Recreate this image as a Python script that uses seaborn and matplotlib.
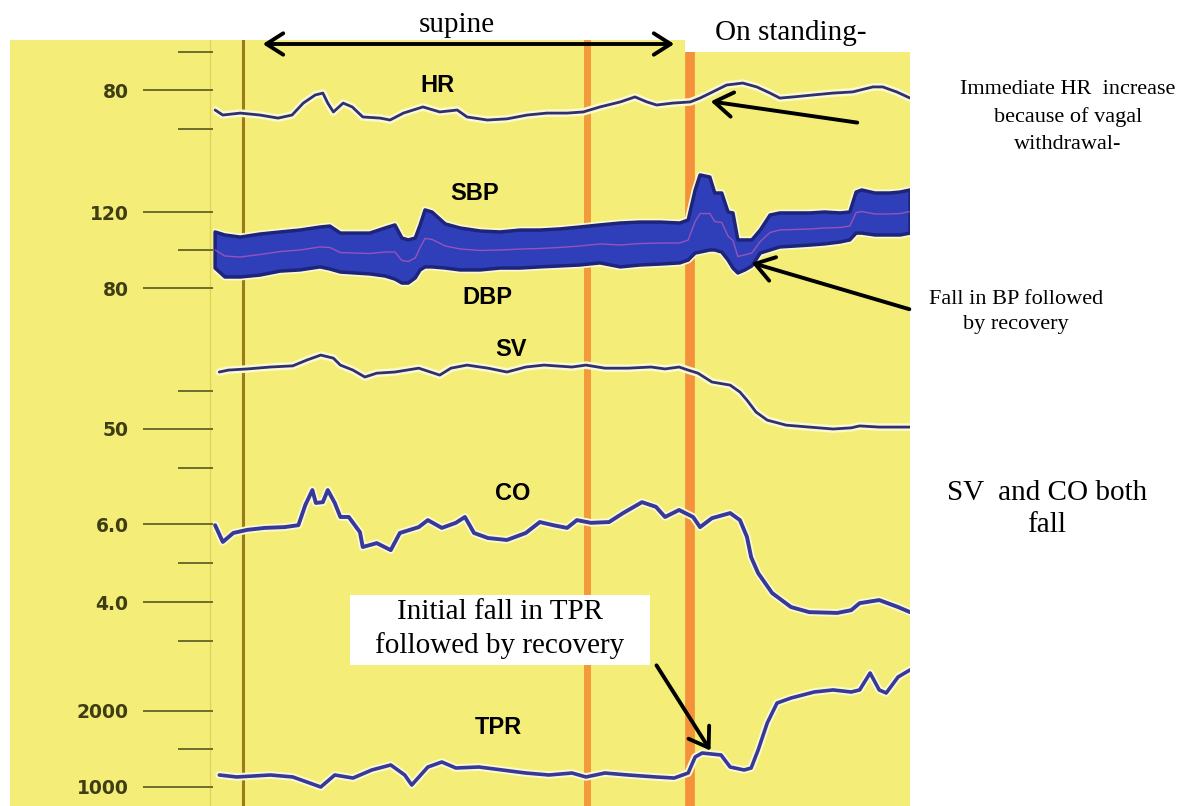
import matplotlib
matplotlib.use("Agg")
import matplotlib.pyplot as plt
import matplotlib.patheffects as pe
from matplotlib.patches import Rectangle, FancyArrowPatch
import pandas as pd
import seaborn as sns

# --- data (time in s, values in signal units) ---
hr_t = [0, 1.1, 3.6, 6.4, 9.0, 11.0, 12.6, 14.3, 15.4, 16.1, 16.9, 18.3, 19.6, 21.1, 23.6, 25.0,
        26.9, 29.7, 32.1, 34.6, 36.0, 38.9, 41.7, 44.6, 47.4, 50.3, 52.6, 55.0, 57.9, 60.0, 61.7,
        63.1, 65.4, 67.9, 69.3, 71.1, 73.1, 75.4, 77.4, 79.3, 80.7, 82.6, 85.4, 88.3, 91.1, 94.0,
        95.4, 97.4, 99.3]
hr = [74.8, 73.5, 74.0, 73.5, 72.7, 73.5, 76.6, 78.7, 79.2, 76.6, 74.3, 76.6, 75.6, 73.0, 72.7,
      72.2, 74.0, 75.6, 74.3, 74.8, 73.0, 72.2, 72.5, 73.5, 74.0, 74.0, 74.3, 75.6, 76.9, 78.2,
      76.9, 76.1, 76.6, 76.9, 77.9, 79.5, 81.3, 81.8, 80.8, 79.2, 77.9, 78.2, 78.7, 79.2, 79.5,
      80.8, 80.8, 79.5, 77.9]

bp_t = [0, 1.4, 3.6, 6.4, 9.3, 12.1, 15.0, 16.4, 17.9, 20.0, 22.1, 24.3, 25.7, 26.7, 27.6, 28.6,
        29.3, 30.0, 31.0, 32.9, 35.0, 37.9, 40.7, 43.6, 46.4, 49.3, 52.1, 55.0, 57.9, 60.7, 63.6,
        66.4, 67.6, 68.6, 69.3, 70.7, 71.4, 72.4, 73.3, 74.0, 74.7, 75.7, 76.7, 77.9, 79.3, 80.7,
        82.9, 85.0, 87.1, 89.3, 90.7, 91.6, 92.4, 94.3, 96.4, 97.9, 99.3]
sbp = [109.5, 107.9, 106.8, 108.4, 109.5, 110.5, 112.1, 112.6, 108.9, 108.9, 108.9, 111.6, 113.2,
       106.3, 105.3, 106.3, 113.2, 121.1, 120.0, 113.7, 111.6, 110.0, 109.5, 110.5, 110.5, 111.1,
       112.1, 113.2, 114.2, 114.7, 114.7, 114.2, 115.8, 131.6, 139.5, 138.4, 130.0, 130.0, 120.0,
       119.5, 105.3, 105.3, 105.3, 110.5, 118.4, 119.5, 119.5, 119.5, 120.0, 119.5, 120.0, 130.5,
       131.6, 130.0, 130.0, 130.5, 131.6]
dbp = [90.5, 85.8, 85.8, 86.8, 88.9, 89.5, 91.1, 90.0, 88.4, 87.9, 87.4, 86.3, 84.7, 82.6, 82.6,
       85.3, 89.5, 91.1, 91.1, 90.5, 89.5, 89.5, 90.5, 90.5, 91.1, 91.6, 92.1, 93.2, 91.1, 92.1,
       92.6, 93.2, 94.7, 98.4, 98.9, 100.0, 100.0, 98.9, 94.7, 90.5, 87.9, 89.5, 91.6, 98.4, 100.0,
       101.6, 102.1, 102.6, 103.2, 104.2, 105.3, 108.9, 108.9, 107.9, 107.9, 107.9, 108.9]

sv_t = [0.6, 1.9, 4.6, 7.9, 11.1, 13.1, 15.1, 16.9, 17.9, 19.7, 21.4, 23.1, 25.7, 29.1, 32.1, 33.7,
        36.0, 39.0, 41.7, 44.4, 47.0, 51.0, 53.0, 55.7, 59.0, 62.3, 64.3, 66.3, 67.6, 69.0, 71.0,
        73.6, 75.0, 76.0, 77.3, 78.9, 81.6, 84.9, 88.3, 90.9, 92.1, 94.9, 99.3]
sv = [64.8, 65.3, 65.6, 66.1, 66.4, 67.9, 69.2, 68.4, 66.6, 65.3, 63.5, 64.5, 64.8, 65.8, 64.0,
      65.8, 66.6, 65.8, 64.8, 66.1, 66.6, 66.1, 66.6, 65.8, 65.8, 66.1, 65.6, 66.1, 65.3, 64.5,
      62.2, 61.4, 59.6, 57.5, 54.4, 52.3, 51.0, 50.5, 50.0, 50.3, 50.8, 50.5, 50.5]

co_t = [0, 1.1, 2.6, 4.6, 7.1, 9.9, 11.9, 12.9, 13.9, 14.4, 15.4, 16.1, 17.1, 17.9, 19.1, 20.7,
        21.1, 23.1, 25.1, 26.4, 29.1, 30.4, 32.4, 34.4, 35.7, 37.0, 39.0, 41.7, 44.4, 46.4, 48.3,
        50.3, 51.7, 53.7, 56.3, 58.3, 61.0, 63.0, 64.3, 66.3, 68.3, 69.3, 71.0, 73.6, 75.0, 76.0,
        76.6, 77.6, 79.6, 82.3, 84.9, 88.9, 90.9, 92.1, 94.9, 97.6, 99.3]
co = [5.97, 5.54, 5.77, 5.85, 5.90, 5.92, 5.97, 6.49, 6.87, 6.54, 6.56, 6.87, 6.54, 6.18, 6.18,
      5.79, 5.41, 5.51, 5.33, 5.77, 5.92, 6.10, 5.90, 6.03, 6.18, 5.77, 5.64, 5.59, 5.77, 6.05,
      5.97, 5.90, 6.10, 6.03, 6.05, 6.28, 6.56, 6.44, 6.18, 6.36, 6.18, 5.92, 6.15, 6.28, 6.10,
      5.67, 5.15, 4.74, 4.23, 3.87, 3.74, 3.72, 3.79, 3.97, 4.05, 3.87, 3.74]

tpr_t = [0.6, 3.1, 7.9, 11.1, 13.1, 15.1, 17.1, 19.7, 22.4, 25.1, 27.1, 28.1, 30.4, 32.4, 34.4,
         37.7, 41.0, 44.4, 47.7, 51.0, 53.0, 55.7, 59.0, 63.0, 65.6, 67.6, 68.6, 69.6, 72.3, 73.6,
         75.6, 76.6, 77.6, 78.9, 80.3, 82.3, 85.6, 88.3, 90.9, 92.1, 93.6, 94.9, 95.9, 97.6, 99.3]
tpr = [1158, 1132, 1158, 1132, 1066, 1000, 1158, 1118, 1224, 1290, 1158, 1026, 1263, 1329, 1250,
       1263, 1224, 1184, 1158, 1184, 1132, 1184, 1158, 1132, 1118, 1184, 1395, 1447, 1421, 1263,
       1224, 1250, 1487, 1842, 2105, 2171, 2250, 2277, 2250, 2277, 2500, 2277, 2237, 2448, 2540]

# event markers (s) and tick labels
brown_mark = 4.0
orange_marks = [53.1, 67.9]
hr_ticks, hr_minor, hr_labels = [80], [90, 70], ["80"]
bp_ticks, bp_minor, bp_labels = [120, 80], [100], ["120", "80"]
sv_ticks, sv_minor, sv_labels = [50], [60, 40], ["50"]
co_ticks, co_minor, co_labels = [6.0, 4.0], [5.0, 3.0], ["6.0", "4.0"]
tpr_ticks, tpr_minor, tpr_labels = [2000, 1000], [1500], ["2000", "1000"]

W, H = 1188, 806
YELLOW = "#f4ee78"
TRACE = "#2f2f72"
HALO = [pe.Stroke(linewidth=5.5, foreground="#fbf9cf"), pe.Normal()]

sns.set_style("white")
plt.rcParams["font.family"] = ["Liberation Serif", "DejaVu Serif"]
plt.rcParams["text.color"] = "black"

fig = plt.figure(figsize=(W / 100, H / 100), dpi=100)


def fx(px):
    return px / W


def fy(py):
    return 1 - py / H


# yellow recording strip
bg = fig.add_axes([fx(10), 0, fx(910) - fx(10), (H - 40) / H])
bg.set_facecolor(YELLOW)
bg.set_xlim(-29.3, 99.3)
bg.set_ylim(0, 1)
bg.set_xticks([])
bg.set_yticks([])
for s in bg.spines.values():
    s.set_visible(False)
bg.axvline(-0.7, color="#ddd45a", lw=1)
bg.axvline(brown_mark, color="#9c7a1e", lw=2.2)
bg.axvline(orange_marks[0], color="#f39a3a", lw=5)
bg.axvline(orange_marks[1], color="#f3923a", lw=7)


def band_axes(top, bottom, ref, ticks, minor, labels):
    (v1, p1), (v2, p2) = ref
    scale = (v1 - v2) / (p2 - p1)
    ax = fig.add_axes([fx(213), fy(bottom), fx(910) - fx(213), (bottom - top) / H])
    ax.patch.set_alpha(0)
    ax.set_xlim(-0.3, 99.3)
    ax.set_ylim(v1 - (bottom - p1) * scale, v1 + (p1 - top) * scale)
    for s in ax.spines.values():
        s.set_visible(False)
    ax.set_xticks([])
    ax.set_yticks(ticks)
    ax.set_yticks(minor, minor=True)
    ax.set_yticklabels(labels)
    ax.tick_params(axis="y", which="both", left=True, labelleft=True)
    ax.tick_params(axis="y", which="major", direction="out", length=50.4, width=1.4,
                   color="#6f6d2c", pad=10.5, labelsize=13.5, labelcolor="#3e3d14")
    ax.tick_params(axis="y", which="minor", direction="out", length=25.2, width=1.4,
                   color="#6f6d2c")
    for lab in ax.get_yticklabels():
        lab.set_fontweight("bold")
        lab.set_family("DejaVu Sans")
    ax.set_xlabel("")
    ax.set_ylabel("")
    return ax


def trace(ax, t, v, lw=2.0, color=TRACE):
    df = pd.DataFrame({"t": t, "v": v})
    sns.lineplot(data=df, x="t", y="v", ax=ax, color=color, linewidth=lw, estimator=None)
    ax.lines[-1].set_path_effects(HALO)
    ax.set_xlabel("")
    ax.set_ylabel("")


ax_hr = band_axes(40, 160, [(80, 90), (70, 128.5)], hr_ticks, hr_minor, hr_labels)
trace(ax_hr, hr_t, hr, lw=2.0)

ax_bp = band_axes(160, 320, [(120, 212), (80, 288)], bp_ticks, bp_minor, bp_labels)
ax_bp.fill_between(bp_t, dbp, sbp, color="#2f3fb9", linewidth=2.5, edgecolor="#1d247a",
                   path_effects=[pe.Stroke(linewidth=5, foreground="#fbf9cf"), pe.Normal()])
bp_df = pd.DataFrame({"t": bp_t, "map": [(s + d) / 2 for s, d in zip(sbp, dbp)]})
sns.lineplot(data=bp_df, x="t", y="map", ax=ax_bp, color="#c25bb8", linewidth=1.0, alpha=0.7)
ax_bp.set_xlabel("")
ax_bp.set_ylabel("")

ax_sv = band_axes(320, 480, [(50, 429), (60, 390.5)], sv_ticks, sv_minor, sv_labels)
trace(ax_sv, sv_t, sv, lw=2.0)

ax_co = band_axes(480, 660, [(6.0, 524), (4.0, 602)], co_ticks, co_minor, co_labels)
trace(ax_co, co_t, co, lw=2.8, color="#36389a")

ax_tpr = band_axes(660, 806, [(2000, 711), (1000, 787)], tpr_ticks, tpr_minor, tpr_labels)
trace(ax_tpr, tpr_t, tpr, lw=2.6, color="#36389a")

# signal names
sig_font = dict(family=["Liberation Sans", "DejaVu Sans"], fontweight="bold", fontsize=17,
                ha="center", va="center", color="black")
for name, (px, py) in {"HR": (437, 86), "SBP": (475, 193), "DBP": (487, 297),
                       "SV": (511, 350), "CO": (513, 494), "TPR": (498, 728)}.items():
    fig.text(fx(px), fy(py), name, **sig_font)

# header
fig.add_artist(Rectangle((fx(685), fy(52)), fx(920) - fx(685), 52 / H, transform=fig.transFigure,
                         facecolor="white", edgecolor="none", zorder=5))
fig.text(fx(457), fy(25), "supine", fontsize=21, ha="center", va="center", zorder=6)
fig.text(fx(791), fy(33), "On standing-", fontsize=21, ha="center", va="center", zorder=6)
fig.add_artist(FancyArrowPatch((fx(260), fy(44)), (fx(677), fy(44)), transform=fig.transFigure,
                               arrowstyle="<->,head_length=0.55,head_width=0.35",
                               mutation_scale=22, lw=2.8, color="black", zorder=6))

# annotations on the right
fig.text(fx(1068), fy(117), "Immediate HR  increase\nbecause of vagal\nwithdrawal-",
         fontsize=16, ha="center", va="center", linespacing=1.55)
fig.text(fx(1016), fy(312), "Fall in BP followed\nby recovery",
         fontsize=16, ha="center", va="center", linespacing=1.45)
fig.text(fx(1047), fy(509), "SV  and CO both\nfall",
         fontsize=21, ha="center", va="center", linespacing=1.3)
fig.add_artist(Rectangle((fx(350), fy(665)), fx(650) - fx(350), 70 / H, transform=fig.transFigure,
                         facecolor="white", edgecolor="none", zorder=5))
fig.text(fx(500), fy(629), "Initial fall in TPR\nfollowed by recovery",
         fontsize=21, ha="center", va="center", linespacing=1.35, zorder=6)

arrow_kw = dict(transform=fig.transFigure, arrowstyle="->,head_length=0.6,head_width=0.4",
                mutation_scale=22, lw=2.8, color="black", zorder=6)
fig.add_artist(FancyArrowPatch((fx(860), fy(123)), (fx(708), fy(101)), **arrow_kw))
fig.add_artist(FancyArrowPatch((fx(912), fy(310)), (fx(749), fy(262)), **arrow_kw))
fig.add_artist(FancyArrowPatch((fx(655), fy(663)), (fx(712), fy(753)), **arrow_kw))

fig.savefig("out.png", dpi=100, facecolor="white")
